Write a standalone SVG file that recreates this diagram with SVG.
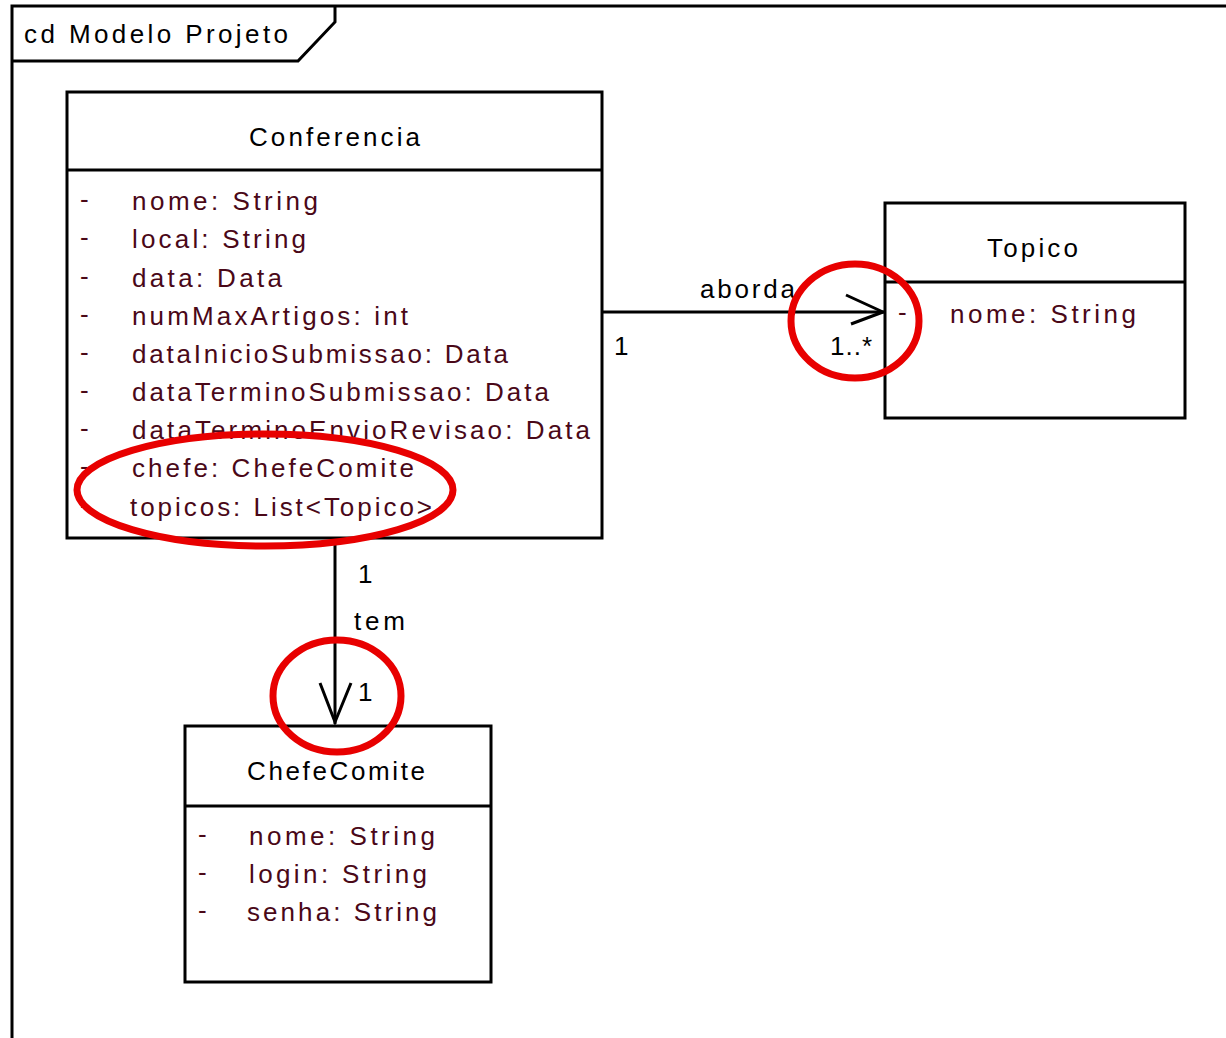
<svg xmlns="http://www.w3.org/2000/svg" width="1226" height="1038" viewBox="0 0 1226 1038">
<style>
text{font-family:"Liberation Sans",Arial,sans-serif;font-size:26px}
.t{fill:#000}
.a{fill:#4a0818}
.box{fill:#fff;stroke:#000;stroke-width:3}
.ln{stroke:#000;stroke-width:3;fill:none}
.red{fill:none;stroke:#e80000;stroke-width:7}
</style>
<rect width="1226" height="1038" fill="#fff"/>
<g id="frame">
<path class="ln" d="M12,1038 V6 H1226"/>
<path class="ln" d="M12,61 H298 L335,22 V6"/>
<text class="t" x="24" y="43" textLength="264" lengthAdjust="spacing">cd Modelo Projeto</text>
</g>
<g id="connectors">
<line class="ln" x1="602" y1="312" x2="884" y2="312"/>
<path class="ln" d="M846,295 L883,312 L851,324"/>
<text class="t" x="700" y="298" textLength="95" lengthAdjust="spacing">aborda</text>
<text class="t" x="614" y="355">1</text>
<text class="t" x="830" y="355" textLength="42" lengthAdjust="spacing">1..*</text>
<line class="ln" x1="335" y1="538" x2="335" y2="724"/>
<path class="ln" d="M320,683 L335,722 L351,683"/>
<text class="t" x="358" y="583">1</text>
<text class="t" x="354" y="630" textLength="51" lengthAdjust="spacing">tem</text>
<text class="t" x="358" y="701">1</text>
</g>
<g id="Conferencia">
<rect class="box" x="67" y="92" width="535" height="446"/>
<line class="ln" x1="67" y1="170" x2="602" y2="170"/>
<text class="t" x="249" y="146" textLength="171" lengthAdjust="spacing">Conferencia</text>
<g class="a">
<text x="80" y="208">-</text><text x="132" y="210" textLength="186" lengthAdjust="spacing">nome: String</text>
<text x="80" y="246">-</text><text x="132" y="248" textLength="174" lengthAdjust="spacing">local: String</text>
<text x="80" y="285">-</text><text x="132" y="287" textLength="150" lengthAdjust="spacing">data: Data</text>
<text x="80" y="323">-</text><text x="132" y="325" textLength="276" lengthAdjust="spacing">numMaxArtigos: int</text>
<text x="80" y="361">-</text><text x="132" y="363" textLength="376" lengthAdjust="spacing">dataInicioSubmissao: Data</text>
<text x="80" y="399">-</text><text x="132" y="401" textLength="417" lengthAdjust="spacing">dataTerminoSubmissao: Data</text>
<text x="80" y="437">-</text><text x="132" y="439" textLength="458" lengthAdjust="spacing">dataTerminoEnvioRevisao: Data</text>
<text x="80" y="475">-</text><text x="132" y="477" textLength="282" lengthAdjust="spacing">chefe: ChefeComite</text>
<text x="80" y="514">-</text><text x="130" y="516" textLength="302" lengthAdjust="spacing">topicos: List&lt;Topico&gt;</text>
</g>
</g>
<g id="Topico">
<rect class="box" x="885" y="203" width="300" height="215"/>
<line class="ln" x1="885" y1="282" x2="1185" y2="282"/>
<text class="t" x="987" y="257" textLength="91" lengthAdjust="spacing">Topico</text>
<g class="a">
<text x="898" y="321">-</text><text x="950" y="323" textLength="186" lengthAdjust="spacing">nome: String</text>
</g>
</g>
<g id="ChefeComite">
<rect class="box" x="185" y="726" width="306" height="256"/>
<line class="ln" x1="185" y1="806" x2="491" y2="806"/>
<text class="t" x="247" y="780" textLength="178" lengthAdjust="spacing">ChefeComite</text>
<g class="a">
<text x="198" y="843">-</text><text x="249" y="845" textLength="186" lengthAdjust="spacing">nome: String</text>
<text x="198" y="881">-</text><text x="249" y="883" textLength="178" lengthAdjust="spacing">login: String</text>
<text x="198" y="919">-</text><text x="247" y="921" textLength="190" lengthAdjust="spacing">senha: String</text>
</g>
</g>
<g id="highlights">
<ellipse class="red" cx="265" cy="490" rx="188" ry="56"/>
<ellipse class="red" cx="855" cy="321" rx="64" ry="57"/>
<ellipse class="red" cx="337" cy="696" rx="64" ry="56"/>
</g>
</svg>
